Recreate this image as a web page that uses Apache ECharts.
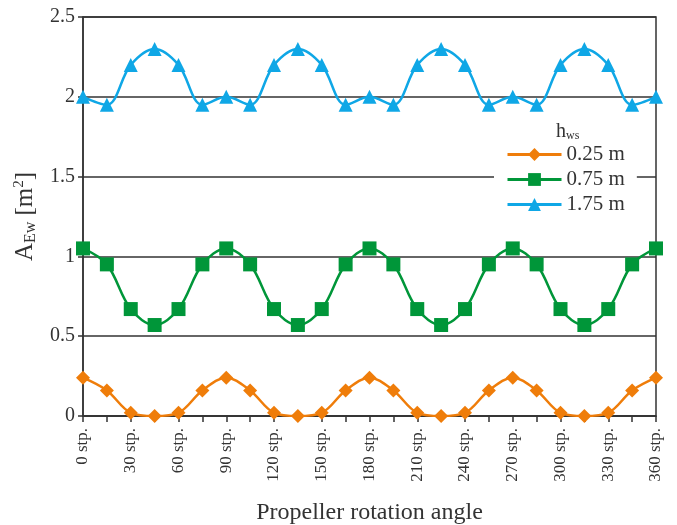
<!DOCTYPE html>
<html>
<head>
<meta charset="utf-8">
<script src="https://cdn.jsdelivr.net/npm/echarts@6/dist/echarts.min.js"></script>
<style>
  html, body { margin: 0; padding: 0; background: #fff; }
  #chart { width: 677px; height: 525px; }
</style>
</head>
<body>
<div id="chart"></div>
<script>
  // propeller rotation angle, stp.
  var angles = [0, 15, 30, 45, 60, 75, 90, 105, 120, 135, 150, 165, 180,
                195, 210, 225, 240, 255, 270, 285, 300, 315, 330, 345, 360];
  var h025 = [0.24, 0.16, 0.02, 0, 0.02, 0.16, 0.24, 0.16, 0.02, 0, 0.02, 0.16, 0.24,
              0.16, 0.02, 0, 0.02, 0.16, 0.24, 0.16, 0.02, 0, 0.02, 0.16, 0.24];
  var h075 = [1.05, 0.95, 0.67, 0.57, 0.67, 0.95, 1.05, 0.95, 0.67, 0.57, 0.67, 0.95, 1.05,
              0.95, 0.67, 0.57, 0.67, 0.95, 1.05, 0.95, 0.67, 0.57, 0.67, 0.95, 1.05];
  var h175 = [2.0, 1.95, 2.2, 2.3, 2.2, 1.95, 2.0, 1.95, 2.2, 2.3, 2.2, 1.95, 2.0,
              1.95, 2.2, 2.3, 2.2, 1.95, 2.0, 1.95, 2.2, 2.3, 2.2, 1.95, 2.0];
  var seriesNames = ["0.25 m", "0.75 m", "1.75 m"];

  var font = "Liberation Serif";
  var txt = "#333";

  function pairs(vals) {
    return angles.map(function (a, i) { return [a, vals[i]]; });
  }

  function line(name, vals, color, symbol, size) {
    return {
      name: name,
      type: "line",
      smooth: 0.35,
      data: pairs(vals),
      symbol: symbol,
      symbolSize: size,
      itemStyle: { color: color },
      lineStyle: { color: color, width: 2.5 },
      z: 3
    };
  }

  var chart = echarts.init(document.getElementById("chart"));
  chart.setOption({
    animation: false,
    backgroundColor: "#fff",
    textStyle: { fontFamily: font },
    grid: {
      left: 83, right: 21, top: 17, bottom: 109,
      outerBoundsMode: "none",
      containLabel: false,
      show: true, borderColor: "#333", borderWidth: 1.5
    },
    title: {
      text: "h{s|ws}",
      left: 551, top: 116,
      textStyle: {
        fontFamily: font, fontSize: 20, fontWeight: "normal", color: txt,
        rich: { s: { fontFamily: font, fontSize: 12, color: txt, padding: [9, 0, 0, 0] } }
      }
    },
    legend: {
      data: seriesNames,
      orient: "vertical",
      left: 494, top: 141,
      itemWidth: 54, itemHeight: 16,
      itemGap: 4,
      padding: [3, 12, 3, 12],
      backgroundColor: "#fff",
      lineStyle: { width: 3 },
      textStyle: { fontFamily: font, fontSize: 21, color: txt },
      z: 5
    },
    xAxis: {
      type: "value",
      min: 0, max: 360, interval: 15,
      name: "Propeller rotation angle",
      nameLocation: "middle",
      nameGap: 85,
      nameTextStyle: { fontFamily: font, fontSize: 24, color: txt },
      axisLine: { onZero: false, lineStyle: { color: "#333", width: 1.5 } },
      axisTick: { show: true, inside: false, length: 6, lineStyle: { color: "#333", width: 1.5 } },
      axisLabel: {
        rotate: 90, margin: 12,
        fontFamily: font, fontSize: 17, color: txt,
        formatter: function (v) { return v % 30 === 0 ? v + " stp." : ""; }
      },
      splitLine: { show: false }
    },
    yAxis: {
      type: "value",
      min: 0, max: 2.5, interval: 0.5,
      name: "A{sub|Ew} [m{sup|2}]",
      nameLocation: "middle",
      nameGap: 42,
      nameTextStyle: {
        fontFamily: font, fontSize: 25, color: txt,
        rich: {
          sub: { fontFamily: font, fontSize: 16, color: txt, padding: [12, 0, 0, 0] },
          sup: { fontFamily: font, fontSize: 15, color: txt, padding: [0, 0, 12, 0] }
        }
      },
      axisLine: { show: true, lineStyle: { color: "#333", width: 1.5 } },
      axisTick: { show: true, inside: false, length: 5, lineStyle: { color: "#333", width: 1.5 } },
      axisLabel: { fontFamily: font, fontSize: 20, color: txt, margin: 8 },
      splitLine: { show: true, lineStyle: { color: "#333", width: 1.5 } }
    },
    series: [
      line(seriesNames[0], h025, "#EF7D0A", "diamond", 14),
      line(seriesNames[1], h075, "#009639", "rect", 14),
      line(seriesNames[2], h175, "#0FA7E6", "triangle", 14)
    ]
  });
</script>
</body>
</html>
